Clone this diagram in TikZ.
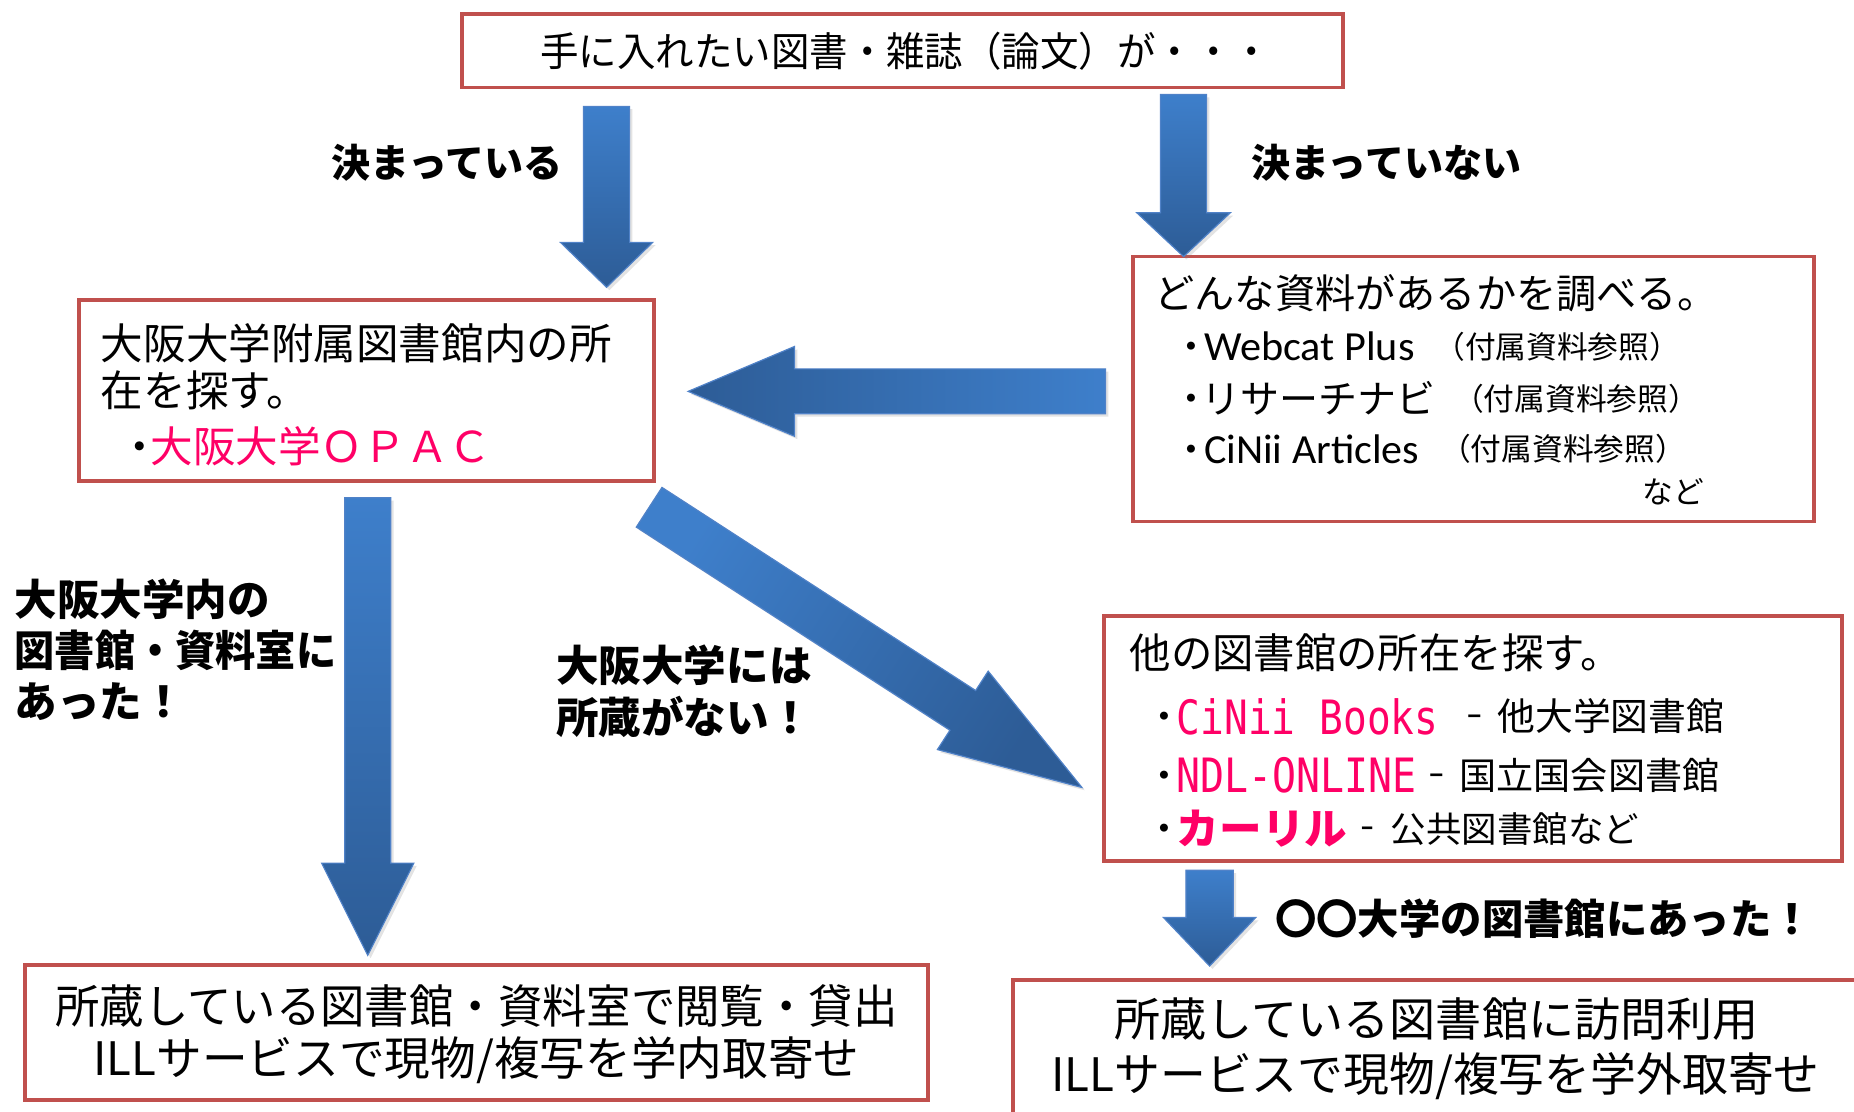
\documentclass[tikz,border=0pt]{standalone}
\usepackage{fontspec}
\setmainfont{Noto Sans CJK JP}
\newfontfamily\latf{Carlito}
\newfontfamily\monof{DejaVu Sans Mono}
\usetikzlibrary{calc,shadows}
\newlength\pxu \setlength\pxu{0.5pt}
\newcommand\fw[2]{\resizebox{#1\pxu}{\height}{#2}}
\newcommand\fs[1]{\fontsize{#1pt}{#1pt}\selectfont}
\newcommand\bul{\vphantom{あ}\makebox[0.5em][c]{・}}
\newcommand\dsh[1]{\vphantom{あ}\resizebox{#1\pxu}{\height}{－}}
\definecolor{boxred}{RGB}{192,80,77}
\definecolor{al}{RGB}{62,127,203}
\definecolor{ad}{RGB}{45,92,150}
\definecolor{aedge}{RGB}{80,130,200}
\definecolor{pinkt}{RGB}{255,0,102}
% block arrow: tail, tip, shaft width px, head width px, head length px, shading options
\newcommand\barrow[6]{%
  \coordinate (hb-#1) at ($(#2)!#5*0.5pt!(#1)$);
  \path[blkarrow,#6]
    ($(#1)!#3*0.25pt!90:(#2)$) --
    ($(hb-#1)!#3*0.25pt!90:(#2)$) --
    ($(hb-#1)!#4*0.25pt!90:(#2)$) --
    (#2) --
    ($(hb-#1)!#4*0.25pt!-90:(#2)$) --
    ($(hb-#1)!#3*0.25pt!-90:(#2)$) --
    ($(#1)!#3*0.25pt!-90:(#2)$) -- cycle;
}
\begin{document}
\begin{tikzpicture}[x=0.5pt,y=-0.5pt,
  redbox/.style={draw=boxred,line width=1.6pt,fill=white,inner sep=0pt},
  txtw/.style={inner sep=0pt,anchor=west},
  txtc/.style={inner sep=0pt},
  blkarrow/.style={draw=aedge,line width=0.5pt,
    drop shadow={opacity=0.22,shadow xshift=1.2pt,shadow yshift=-1.2pt}}]
\useasboundingbox (0,0) rectangle (1568,940);
\clip (0,0) rectangle (1568,940);
\fill[white] (0,0) rectangle (1568,940);

% boxes
\node[redbox,minimum width=745\pxu,minimum height=62\pxu] (top) at (763.5,43) {};
\node[redbox,minimum width=486\pxu,minimum height=153\pxu] (bB) at (310,330.5) {};
\node[redbox,minimum width=576\pxu,minimum height=224\pxu] (bC) at (1246,329) {};
\node[redbox,minimum width=624\pxu,minimum height=207\pxu] (bD) at (1246,624.5) {};
\node[redbox,minimum width=764\pxu,minimum height=114\pxu] (bE) at (403,873) {};
\node[redbox,minimum width=716\pxu,minimum height=140\pxu] (bF) at (1215,899) {};

% title
\node[txtc] (tTop) at (766,43) {\fw{618}{\fs{17}手に入れたい図書・雑誌（論文）が・・・}};

% branch labels
\node[txtw] (l1) at (280,138) {\bfseries\fs{16.5}決まっている};
\node[txtw] (l2) at (1058,138) {\bfseries\fs{16.5}決まっていない};

% box B
\node[txtw] (b1) at (85,290) {\fs{18}大阪大学附属図書館内の所};
\node[txtw] (b2) at (85,330) {\fs{18}在を探す。};
\node[txtw] (b3) at (109,377) {\fs{18}\bul\textcolor{pinkt}{大阪大学ＯＰＡＣ}};

% box C
\node[txtw] (c1) at (976,248) {\fs{17}どんな資料があるかを調べる。};
\node[txtc] (c2a) at (1008,293) {\fs{16}\bul};
\node[txtw] (c2b) at (1018,293) {\fw{178}{\latf\fs{17.5}Webcat Plus}};
\node[txtc] (c2c) at (1317,293) {\fs{13}（付属資料参照）};
\node[txtc] (c3a) at (1008,337) {\fs{16}\bul};
\node[txtw] (c3b) at (1016,337) {\fs{16.5}リサーチナビ};
\node[txtc] (c3c) at (1333,337) {\fs{13}（付属資料参照）};
\node[txtc] (c4a) at (1008,380) {\fs{16}\bul};
\node[txtw] (c4b) at (1018,380) {\fw{182}{\latf\fs{17.5}CiNii Articles}};
\node[txtc] (c4c) at (1322,380) {\fs{13}（付属資料参照）};
\node[txtc] (c5) at (1415,416) {\fs{13}など};

% box D
\node[txtw] (d1) at (955,552) {\fs{17.5}他の図書館の所在を探す。};
\node[txtc] (d2a) at (985,606) {\fs{16}\bul};
\node[txtw] (d2b) at (995,606) {\fw{221}{\color{pinkt}\monof\fs{20}CiNii Books}};
\node[txtc] (d2c) at (1247,606) {\fs{16}\dsh{14}};
\node[txtw] (d2d) at (1266,606) {\fs{16}他大学図書館};
\node[txtc] (d3a) at (985,656) {\fs{16}\bul};
\node[txtw] (d3b) at (995,656) {\fw{203}{\color{pinkt}\monof\fs{20}NDL-ONLINE}};
\node[txtc] (d3c) at (1215,656) {\fs{16}\dsh{14}};
\node[txtw] (d3d) at (1234,656) {\fs{15.7}国立国会図書館};
\node[txtc] (d4a) at (985,701) {\fs{16}\bul};
\node[txtw] (d4b) at (995,701) {\bfseries\color{pinkt}\fs{18}カーリル};
\node[txtc] (d4c) at (1157,701) {\fs{16}\dsh{12}};
\node[txtw] (d4d) at (1176,701) {\fs{15}公共図書館など};

% side labels
\node[txtw] (m1) at (12,507) {\bfseries\fs{18}大阪大学内の};
\node[txtw] (m2) at (12,550) {\fw{272}{\bfseries\fs{18}図書館・資料室に}};
\node[txtw] (m3) at (12,593) {\bfseries\fs{18}あった！};
\node[txtw] (n1) at (470,563) {\bfseries\fs{18}大阪大学には};
\node[txtw] (n2) at (470,606) {\bfseries\fs{18}所蔵がない！};
\node[txtw] (o1) at (1078,777) {\bfseries\fs{17.5}〇〇大学の図書館にあった！};

% bottom boxes text
\node[txtc] (e1) at (403,851) {\fw{712}{\fs{19.5}所蔵している図書館・資料室で閲覧・貸出}};
\node[txtc] (e2) at (403,897) {\fw{648}{\fs{19.5}ILLサービスで現物/複写を学内取寄せ}};
\node[txtc] (f1) at (1215,862) {\fs{19.5}所蔵している図書館に訪問利用};
\node[txtc] (f2) at (1214,910) {\fw{650}{\fs{19.5}ILLサービスで現物/複写を学外取寄せ}};

% arrows
\coordinate (a1s) at (513,90);   \coordinate (a1e) at (513,243);
\coordinate (a2s) at (1001,80);  \coordinate (a2e) at (1001,217);
\coordinate (a3s) at (935,331);  \coordinate (a3e) at (582,331);
\coordinate (a4s) at (311,421);  \coordinate (a4e) at (311,808);
\coordinate (a5s) at (549,429);  \coordinate (a5e) at (915,666);
\coordinate (a6s) at (1023,736); \coordinate (a6e) at (1023,817);
\barrow{a1s}{a1e}{39}{78}{38}{top color=al,bottom color=ad}
\barrow{a2s}{a2e}{39}{79}{37}{top color=al,bottom color=ad}
\barrow{a3s}{a3e}{38}{76}{90}{left color=ad,right color=al}
\barrow{a4s}{a4e}{39}{78}{78}{top color=al,bottom color=ad}
\barrow{a5s}{a5e}{40}{79}{120}{top color=al,bottom color=ad,shading angle=57}
\barrow{a6s}{a6e}{40}{78}{41}{top color=al,bottom color=ad}
\end{tikzpicture}
\end{document}
